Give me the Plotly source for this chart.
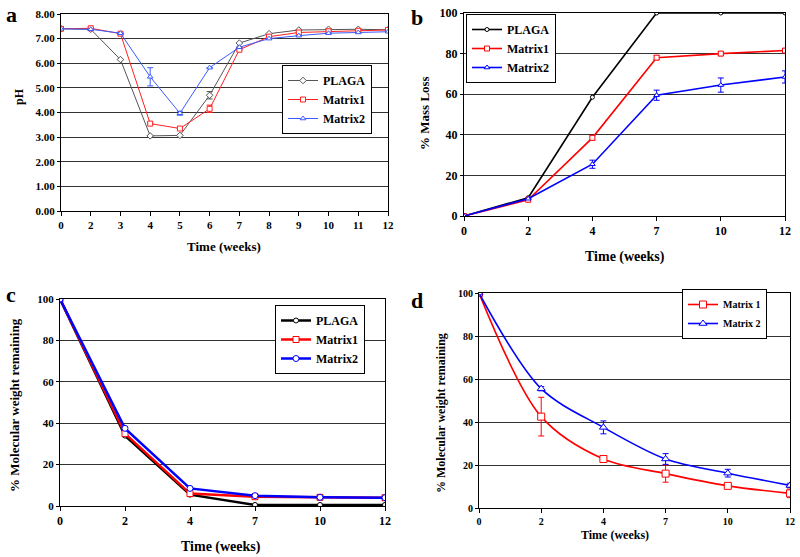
import plotly.graph_objects as go

# ---------------- data ----------------
# panel a: pH of the degradation medium
weeks_a = ["0", "2", "3", "4", "5", "6", "7", "8", "9", "10", "11", "12"]
ph_plaga = [7.40, 7.38, 6.15, 3.05, 3.07, 4.70, 6.82, 7.20, 7.35, 7.38, 7.38, 7.36]
ph_plaga_err = [None, None, None, None, None, 0.15, None, None, None, None, None, None]
ph_matrix1 = [7.40, 7.42, 7.20, 3.55, 3.35, 4.15, 6.55, 7.08, 7.25, 7.30, 7.32, 7.35]
ph_matrix1_err = [None, None, None, None, None, 0.15, None, None, None, None, None, None]
ph_matrix2 = [7.40, 7.38, 7.22, 5.45, 3.97, 5.82, 6.65, 7.00, 7.12, 7.22, 7.25, 7.28]
ph_matrix2_err = [None, None, None, 0.37, 0.08, None, None, None, None, None, None, None]

# panels b, c, d share the sampling weeks
weeks = ["0", "2", "4", "7", "10", "12"]

# panel b: % mass loss
mass_plaga = [0, 9.0, 58.5, 100, 100, 100]
mass_matrix1 = [0, 8.0, 38.5, 78.0, 80.0, 81.5]
mass_matrix1_err = [None, None, 1.0, 1.0, 1.0, 1.0]
mass_matrix2 = [0, 8.5, 25.5, 59.5, 64.5, 68.5]
mass_matrix2_err = [None, None, 2.0, 2.5, 3.5, 3.0]

# panel c: % molecular weight remaining
mw_plaga = [100, 34.0, 5.5, 0.5, 0.5, 0.5]
mw_matrix1 = [100, 35.0, 6.0, 4.5, 4.2, 4.0]
mw_matrix2 = [100, 37.5, 8.5, 5.0, 4.2, 4.0]

# panel d: % molecular weight remaining (matrices only)
mwd_matrix1 = [100, 42.5, 22.8, 16.0, 10.3, 6.8]
mwd_matrix1_err = [None, 9.0, 0.8, 4.0, 0.8, 2.0]
mwd_matrix2 = [100, 55.5, 37.5, 22.8, 16.2, 10.5]
mwd_matrix2_err = [None, 1.0, 3.0, 2.5, 1.8, 1.0]

FONT = "Liberation Serif"
W, H = 800, 557


def pxx(x):
    return x / W


def pxy(y):
    return 1 - y / H


fig = go.Figure()


def add_series(x, y, name, color, symbol, width, size, xa, ya, legend, err=None, shape="linear"):
    fig.add_trace(go.Scatter(
        x=x, y=y, name=name, mode="lines+markers",
        line=dict(color=color, width=width, shape=shape, smoothing=0.9),
        marker=dict(symbol=symbol, size=size, color="white",
                    line=dict(color=color, width=1)),
        error_y=dict(type="data", array=err, color=color, thickness=1, width=3,
                     visible=err is not None),
        xaxis=xa, yaxis=ya, legend=legend,
    ))


# a
add_series(weeks_a, ph_plaga, "PLAGA", "#555555", "diamond", 1, 5, "x", "y", "legend", ph_plaga_err)
add_series(weeks_a, ph_matrix1, "Matrix1", "#ff2020", "square", 1, 5, "x", "y", "legend", ph_matrix1_err)
add_series(weeks_a, ph_matrix2, "Matrix2", "#3a5cff", "triangle-up", 1, 5, "x", "y", "legend", ph_matrix2_err)
# b
add_series(weeks, mass_plaga, "PLAGA", "black", "circle", 1.6, 4, "x2", "y2", "legend2")
add_series(weeks, mass_matrix1, "Matrix1", "#ff0000", "square", 1.6, 5, "x2", "y2", "legend2", mass_matrix1_err)
add_series(weeks, mass_matrix2, "Matrix2", "#0000ff", "triangle-up", 1.6, 5, "x2", "y2", "legend2", mass_matrix2_err)
# c
add_series(weeks, mw_plaga, "PLAGA", "black", "circle", 2.5, 5, "x3", "y3", "legend3")
add_series(weeks, mw_matrix1, "Matrix1", "#ff0000", "square", 2.5, 6, "x3", "y3", "legend3")
add_series(weeks, mw_matrix2, "Matrix2", "#0000ff", "circle", 2.5, 6, "x3", "y3", "legend3")
# d
add_series(weeks, mwd_matrix1, "Matrix 1", "#ff0000", "square", 1.6, 7, "x4", "y4", "legend4",
           mwd_matrix1_err, shape="spline")
add_series(weeks, mwd_matrix2, "Matrix 2", "#0000ff", "triangle-up", 1.6, 7, "x4", "y4", "legend4",
           mwd_matrix2_err, shape="spline")


def xaxis(domain, anchor, n, size):
    return dict(domain=domain, anchor=anchor, type="category", range=[0, n - 1],
                showgrid=False, showline=True, mirror=True, linecolor="black", linewidth=1,
                ticks="outside", ticklen=4, tickcolor="black", automargin=False,
                tickfont=dict(family=FONT, size=size, color="black", weight="bold"),
                zeroline=False, fixedrange=True)


def yaxis(domain, anchor, rng, dtick, size, fmt=None):
    d = dict(domain=domain, anchor=anchor, range=rng, dtick=dtick,
             showgrid=True, gridcolor="#333333", gridwidth=1,
             showline=True, mirror=True, linecolor="black", linewidth=1,
             ticks="outside", ticklen=3, tickcolor="black", automargin=False,
             tickfont=dict(family=FONT, size=size, color="black", weight="bold"),
             zeroline=False, fixedrange=True)
    if fmt:
        d["tickformat"] = fmt
    return d


def legend_box(x, y, size, gap=0):
    return dict(x=pxx(x), y=pxy(y), xanchor="left", yanchor="top",
                bgcolor="white", bordercolor="black", borderwidth=1,
                font=dict(family=FONT, size=size, color="black", weight="bold"),
                tracegroupgap=gap, itemwidth=30)


annotations = []


def text(x, y, s, size, angle=0):
    annotations.append(dict(x=pxx(x), y=pxy(y), xref="paper", yref="paper", text=s,
                            showarrow=False, textangle=angle,
                            xanchor="center", yanchor="middle",
                            font=dict(family=FONT, size=size, color="black", weight="bold")))


text(11, 14, "a", 22)
text(417, 18, "b", 22)
text(11, 294, "c", 22)
text(417, 300, "d", 22)
text(19, 97, "pH", 12, -90)
text(224, 247, "Time (weeks)", 13)
text(424, 113, "% Mass Loss", 13, -90)
text(625, 257, "Time (weeks)", 14)
text(14, 405, "% Molecular weight remaining", 13, -90)
text(221, 547, "Time (weeks)", 14)
text(441, 413, "% Molecular weight remaining", 12, -90)
text(615, 535, "Time (weeks)", 12)

fig.update_layout(
    width=W, height=H,
    margin=dict(l=0, r=0, t=0, b=0, autoexpand=False),
    paper_bgcolor="white", plot_bgcolor="white",
    showlegend=True,
    xaxis=xaxis([pxx(61), pxx(388)], "y", len(weeks_a), 11),
    yaxis=yaxis([pxy(211), pxy(14)], "x", [0, 8], 1, 11, ".2f"),
    xaxis2=xaxis([pxx(464), pxx(785)], "y2", len(weeks), 12),
    yaxis2=yaxis([pxy(216), pxy(13)], "x2", [0, 100], 20, 12),
    xaxis3=xaxis([pxx(60), pxx(385)], "y3", len(weeks), 12),
    yaxis3=yaxis([pxy(506), pxy(299)], "x3", [0, 100], 20, 11),
    xaxis4=xaxis([pxx(479), pxx(790)], "y4", len(weeks), 10),
    yaxis4=yaxis([pxy(508), pxy(293)], "x4", [0, 100], 20, 10),
    legend=legend_box(282, 65, 12),
    legend2=legend_box(466, 14, 12),
    legend3=legend_box(275, 305, 12),
    legend4=legend_box(682, 289, 10),
    annotations=annotations,
)

# drop the browser's default 8px body margin so the figure sits at the page corner
fig.write_html("out.html", config={"displayModeBar": False},
               post_script="document.body.style.margin = '0';")
